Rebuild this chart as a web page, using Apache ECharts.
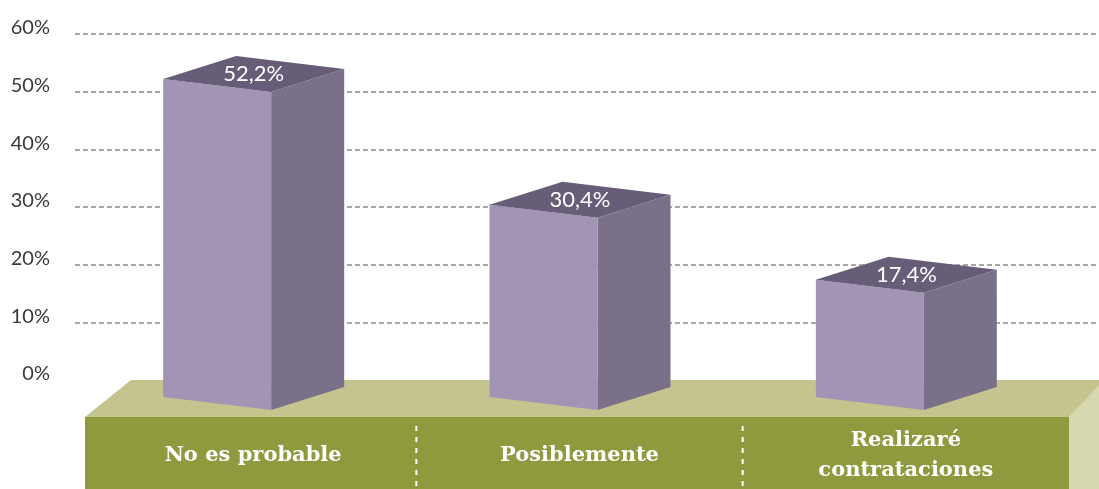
<!DOCTYPE html>
<html>
<head>
<meta charset="utf-8">
<style>
  html, body { margin: 0; padding: 0; background: #ffffff; }
  #chart { width: 1099px; height: 489px; }
</style>
<script src="https://cdn.jsdelivr.net/npm/echarts@6/dist/echarts.min.js"></script>
</head>
<body>
<div id="chart"></div>
<script>
// Survey answers and their shares (percent)
const categories = ['No es probable', 'Posiblemente', 'Realizaré\ncontrataciones'];
const values = [52.2, 30.4, 17.4];
const yMin = 0;
const yMax = 60;
const yStep = 10;

// Palette
const barFront = '#a194b4';
const barSide = '#7a7089';
const barTop = '#685d78';
const floorTop = '#c4c48f';
const floorFront = '#8f9a3e';
const floorSide = '#d7d7b0';

const chart = echarts.init(document.getElementById('chart'), null, { renderer: 'canvas' });

function pct(v) {
  return v.toFixed(1).replace('.', ',') + '%';
}

// Box geometry (pixels): front face width, depth offset, slope of front edges
const FRONT_W = 108;
const DEPTH_X = 73;
const DEPTH_Y = -23;
const SLOPE = 13;
const SINK = 17;     // bars stand on the floor slab, below the zero line
const SHIFT = -36;   // front face sits left of the band centre

function renderBox(params, api) {
  const idx = api.value(0);
  const top = api.coord([idx, api.value(1)]);
  const base = api.coord([idx, 0]);
  const cx = top[0] + SHIFT;
  const fl = cx - FRONT_W / 2;
  const fr = cx + FRONT_W / 2;
  const ty = top[1];
  const by = base[1] + SINK;
  const front = [[fl, ty], [fr, ty + SLOPE], [fr, by + SLOPE], [fl, by]];
  const side = [[fr, ty + SLOPE], [fr + DEPTH_X, ty + SLOPE + DEPTH_Y], [fr + DEPTH_X, by + SLOPE + DEPTH_Y], [fr, by + SLOPE]];
  const lid = [[fl, ty], [fl + DEPTH_X, ty + DEPTH_Y], [fr + DEPTH_X, ty + SLOPE + DEPTH_Y], [fr, ty + SLOPE]];
  return {
    type: 'group',
    children: [
      { type: 'polygon', shape: { points: side }, style: { fill: barSide } },
      { type: 'polygon', shape: { points: front }, style: { fill: barFront } },
      { type: 'polygon', shape: { points: lid }, style: { fill: barTop } },
      {
        type: 'text',
        x: fl + (FRONT_W + DEPTH_X) / 2,
        y: ty + (SLOPE + DEPTH_Y) / 2,
        style: {
          text: pct(api.value(1)),
          fill: '#ffffff',
          font: '22px Lato',
          align: 'center',
          verticalAlign: 'middle'
        }
      }
    ]
  };
}

function renderFloor(params, api) {
  const cs = params.coordSys;
  const W = api.getWidth();
  const H = api.getHeight();
  const baseY = cs.y + cs.height;
  const left = cs.x - 5;
  const right = cs.x + cs.width;
  const frontTop = baseY + 37;
  const children = [
    { type: 'polygon', shape: { points: [[left, frontTop], [left + 46, baseY], [W, baseY], [W, frontTop], [right, frontTop]] }, style: { fill: floorTop } },
    { type: 'polygon', shape: { points: [[right, frontTop], [W, baseY + 5], [W, H], [right, H]] }, style: { fill: floorSide } },
    { type: 'rect', shape: { x: left, y: frontTop, width: right - left, height: H - frontTop }, style: { fill: floorFront } }
  ];
  for (let i = 0; i < categories.length - 1; i++) {
    const x = (api.coord([i, 0])[0] + api.coord([i + 1, 0])[0]) / 2;
    children.push({
      type: 'line',
      shape: { x1: x, y1: frontTop + 9, x2: x, y2: H },
      style: { stroke: '#ffffff', lineWidth: 2, lineDash: [5, 6] }
    });
  }
  return { type: 'group', children };
}

chart.setOption({
  animation: false,
  backgroundColor: '#ffffff',
  grid: [
    { left: 75, right: 2, top: 34, bottom: 109 },
    { left: 90, right: 30, top: 34, bottom: 109 }
  ],
  xAxis: [
    { gridIndex: 0, type: 'value', show: false, min: 0, max: 1 },
    {
      gridIndex: 1,
      type: 'category',
      data: categories,
      z: 10,
      axisLine: { show: false },
      axisTick: { show: false },
      axisLabel: {
        margin: 76,
        verticalAlign: 'middle',
        color: '#ffffff',
        fontFamily: 'DejaVu Serif',
        fontWeight: 'bold',
        fontSize: 21,
        lineHeight: 30
      }
    }
  ],
  yAxis: [
    {
      gridIndex: 0,
      type: 'value',
      min: yMin,
      max: yMax,
      interval: yStep,
      axisLine: { show: false },
      axisTick: { show: false },
      axisLabel: {
        formatter: '{value}%',
        margin: 25,
        color: '#3a3a3a',
        fontFamily: 'Lato',
        fontSize: 20,
        verticalAlign: 'bottom',
        lineHeight: 12
      },
      splitLine: {
        show: true,
        showMinLine: false,
        lineStyle: { color: '#8a8a8a', width: 1.5, type: [5, 3] }
      }
    },
    { gridIndex: 1, type: 'value', min: yMin, max: yMax, interval: yStep, show: false }
  ],
  series: [
    {
      type: 'custom',
      xAxisIndex: 1,
      yAxisIndex: 1,
      z: 1,
      silent: true,
      renderItem: renderFloor,
      data: [[0, 0]]
    },
    {
      type: 'custom',
      xAxisIndex: 1,
      yAxisIndex: 1,
      z: 3,
      renderItem: renderBox,
      data: values.map((v, i) => [i, v])
    }
  ]
});
</script>
</body>
</html>
